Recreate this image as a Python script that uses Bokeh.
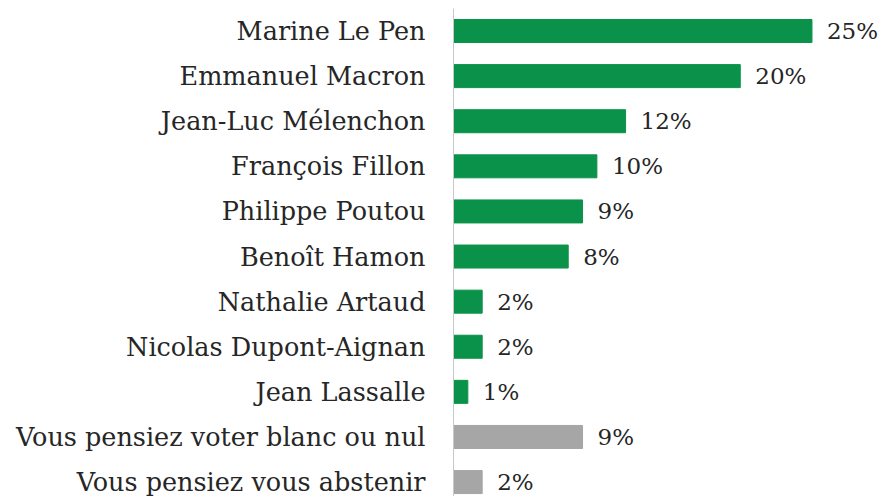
from bokeh.plotting import figure
from bokeh.models import Range1d, FixedTicker, ColumnDataSource
from bokeh.core.properties import value
from bokeh.embed import file_html
from bokeh.resources import INLINE

categories = ["Marine Le Pen", "Emmanuel Macron", "Jean-Luc Mélenchon", "François Fillon",
              "Philippe Poutou", "Benoît Hamon", "Nathalie Artaud", "Nicolas Dupont-Aignan",
              "Jean Lassalle", "Vous pensiez voter blanc ou nul", "Vous pensiez vous abstenir"]
values = [25, 20, 12, 10, 9, 8, 2, 2, 1, 9, 2]
groups = ["candidat"] * 9 + ["autre"] * 2

GREEN = "#0b924a"
GRAY = "#a6a6a6"
FONT = "DejaVu Serif"

idx = list(range(len(categories)))
src = ColumnDataSource(dict(
    y=idx,
    v=values,
    color=[GREEN if g == "candidat" else GRAY for g in groups],
    lbl=[f"{v}%" for v in values],
))

p = figure(width=881, height=496, output_backend="svg", toolbar_location=None,
           x_range=Range1d(0, 29.85), y_range=Range1d(10.32, -0.499),
           min_border_left=453, min_border_right=0, min_border_top=8, min_border_bottom=0)

p.hbar(y="y", right="v", left=0, height=0.51, color="color", source=src)
p.text(x="v", y="y", text="lbl", x_offset=15, text_baseline="middle", text_align="left",
       text_font=value(FONT), text_font_size="23px", text_color="#262626", source=src)

p.xaxis.visible = False
p.xgrid.visible = False
p.ygrid.visible = False
p.outline_line_color = None

ya = p.yaxis[0]
ya.ticker = FixedTicker(ticks=idx)
ya.major_label_overrides = {i: c for i, c in zip(idx, categories)}
ya.axis_line_color = "#c8c8c8"
ya.axis_line_width = 1
ya.major_tick_line_color = None
ya.minor_tick_line_color = None
ya.major_tick_out = 0
ya.major_tick_in = 0
ya.major_label_standoff = 28
ya.major_label_text_font = FONT
ya.major_label_text_font_size = "25.5px"
ya.major_label_text_color = "#262626"

open("out.html", "w").write(file_html(p, INLINE))
